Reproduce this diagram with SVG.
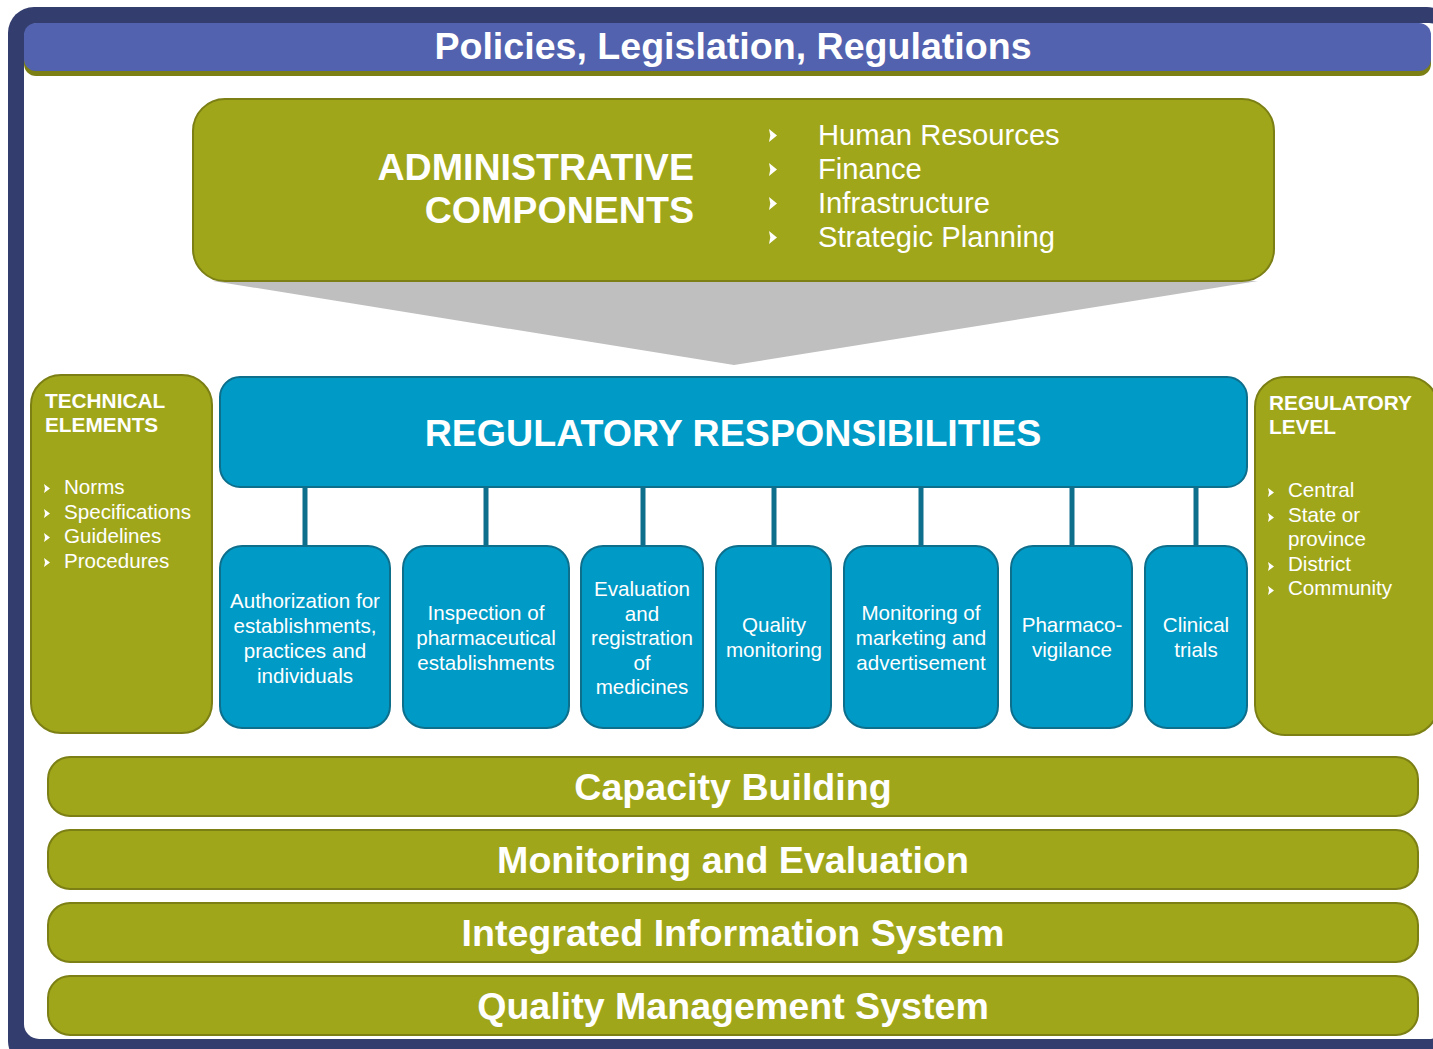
<svg xmlns="http://www.w3.org/2000/svg" width="1433" height="1049" viewBox="0 0 1433 1049">
<style>
text{font-family:"Liberation Sans",Arial,sans-serif;fill:#fff}
.b{font-weight:bold}
.olive{fill:#A0A61A;stroke:#7B7F14;stroke-width:2}
.teal{fill:#009AC6;stroke:#0E6F8C;stroke-width:2}
.conn{stroke:#0E6F8C;stroke-width:5;fill:none}
.bul{fill:#fff}
.big{font-size:37.6px;font-weight:bold}
.mid{font-size:20.6px}
.c{text-anchor:middle}
</style>
<defs>
<path id="bulL" d="M0,0 L8,6.5 L0,13 L1.3,6.5 Z"/>
<path id="bulS" d="M0,0 L6,4.5 L0,9 L1,4.5 Z"/>
</defs>

<g id="frame">
<rect x="8" y="7" width="1445" height="1060" rx="26" fill="#343E6E"/>
<rect x="24" y="23" width="1420" height="1016" rx="15" fill="#fff"/>
</g>

<g id="header">
<rect x="24" y="28" width="1407" height="48" rx="12" fill="#7B7F14"/>
<rect x="24" y="23" width="1407" height="48" rx="12" fill="#5262AE"/>
<text x="733" y="59" class="big c">Policies, Legislation, Regulations</text>
</g>

<g id="funnel">
<polygon points="213,281 1258,281 734,365" fill="#BFBFBF"/>
</g>

<g id="admin">
<rect x="193" y="99" width="1081" height="182" rx="32" class="olive"/>
<text x="694" y="180" style="text-anchor:end" class="big">ADMINISTRATIVE</text>
<text x="694" y="223" style="text-anchor:end" class="big">COMPONENTS</text>
<g class="bul">
<use href="#bulL" x="769" y="129"/>
<use href="#bulL" x="769" y="163"/>
<use href="#bulL" x="769" y="197"/>
<use href="#bulL" x="769" y="231"/>
</g>
<g style="font-size:29.2px">
<text x="818" y="145">Human Resources</text>
<text x="818" y="179">Finance</text>
<text x="818" y="213">Infrastructure</text>
<text x="818" y="247">Strategic Planning</text>
</g>
</g>

<g id="technical">
<rect x="31" y="375" width="181" height="358" rx="30" class="olive"/>
<text x="45" y="408" class="b" style="font-size:20.8px">TECHNICAL</text>
<text x="45" y="432" class="b" style="font-size:20.8px">ELEMENTS</text>
<g class="bul">
<use href="#bulS" x="44" y="484"/>
<use href="#bulS" x="44" y="509"/>
<use href="#bulS" x="44" y="533"/>
<use href="#bulS" x="44" y="558"/>
</g>
<g class="mid">
<text x="64" y="494">Norms</text>
<text x="64" y="518.5">Specifications</text>
<text x="64" y="543">Guidelines</text>
<text x="64" y="567.5">Procedures</text>
</g>
</g>

<g id="level">
<rect x="1255" y="377" width="183" height="358" rx="30" class="olive"/>
<text x="1269" y="410" class="b" style="font-size:20.8px">REGULATORY</text>
<text x="1269" y="434" class="b" style="font-size:20.8px">LEVEL</text>
<g class="bul">
<use href="#bulS" x="1268" y="488"/>
<use href="#bulS" x="1268" y="513"/>
<use href="#bulS" x="1268" y="562"/>
<use href="#bulS" x="1268" y="586"/>
</g>
<g class="mid">
<text x="1288" y="497">Central</text>
<text x="1288" y="521.5">State or</text>
<text x="1288" y="546">province</text>
<text x="1288" y="570.5">District</text>
<text x="1288" y="595">Community</text>
</g>
</g>

<g id="connectors">
<line x1="305" y1="487" x2="305" y2="546" class="conn"/>
<line x1="486" y1="487" x2="486" y2="546" class="conn"/>
<line x1="643" y1="487" x2="643" y2="546" class="conn"/>
<line x1="774" y1="487" x2="774" y2="546" class="conn"/>
<line x1="921" y1="487" x2="921" y2="546" class="conn"/>
<line x1="1072" y1="487" x2="1072" y2="546" class="conn"/>
<line x1="1196" y1="487" x2="1196" y2="546" class="conn"/>
</g>

<g id="responsibilities">
<rect x="220" y="377" width="1027" height="110" rx="20" class="teal"/>
<text x="733" y="446" class="big c">REGULATORY RESPONSIBILITIES</text>
</g>

<g id="authorization">
<rect x="220" y="546" width="170" height="182" rx="22" class="teal"/>
<text class="mid c"><tspan x="305" y="608">Authorization for</tspan><tspan x="305" y="633">establishments,</tspan><tspan x="305" y="658">practices and</tspan><tspan x="305" y="683">individuals</tspan></text>
</g>
<g id="inspection">
<rect x="403" y="546" width="166" height="182" rx="22" class="teal"/>
<text class="mid c"><tspan x="486" y="620">Inspection of</tspan><tspan x="486" y="645">pharmaceutical</tspan><tspan x="486" y="670">establishments</tspan></text>
</g>
<g id="evaluation">
<rect x="581" y="546" width="122" height="182" rx="22" class="teal"/>
<text class="mid c"><tspan x="642" y="596">Evaluation</tspan><tspan x="642" y="620.5">and</tspan><tspan x="642" y="645">registration</tspan><tspan x="642" y="669.5">of</tspan><tspan x="642" y="694">medicines</tspan></text>
</g>
<g id="quality">
<rect x="716" y="546" width="115" height="182" rx="22" class="teal"/>
<text class="mid c"><tspan x="774" y="632">Quality</tspan><tspan x="774" y="657">monitoring</tspan></text>
</g>
<g id="marketing">
<rect x="844" y="546" width="154" height="182" rx="22" class="teal"/>
<text class="mid c"><tspan x="921" y="620">Monitoring of</tspan><tspan x="921" y="645">marketing and</tspan><tspan x="921" y="670">advertisement</tspan></text>
</g>
<g id="pharmacovigilance">
<rect x="1011" y="546" width="121" height="182" rx="22" class="teal"/>
<text class="mid c"><tspan x="1072" y="632">Pharmaco-</tspan><tspan x="1072" y="657">vigilance</tspan></text>
</g>
<g id="clinical">
<rect x="1145" y="546" width="102" height="182" rx="22" class="teal"/>
<text class="mid c"><tspan x="1196" y="632">Clinical</tspan><tspan x="1196" y="657">trials</tspan></text>
</g>

<g id="capacity">
<rect x="48" y="757" width="1370" height="59" rx="22" class="olive"/>
<text x="733" y="800" class="big c">Capacity Building</text>
</g>
<g id="monitoring">
<rect x="48" y="830" width="1370" height="59" rx="22" class="olive"/>
<text x="733" y="873" class="big c">Monitoring and Evaluation</text>
</g>
<g id="information">
<rect x="48" y="903" width="1370" height="59" rx="22" class="olive"/>
<text x="733" y="946" class="big c">Integrated Information System</text>
</g>
<g id="qms">
<rect x="48" y="976" width="1370" height="59" rx="22" class="olive"/>
<text x="733" y="1019" class="big c">Quality Management System</text>
</g>
</svg>
